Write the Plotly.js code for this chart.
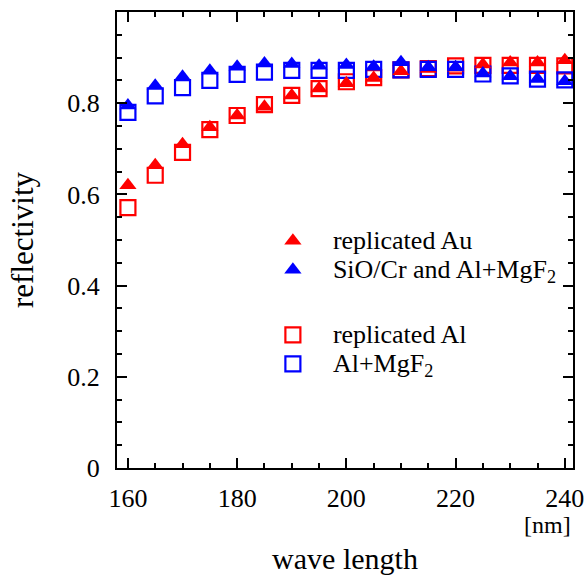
<!DOCTYPE html>
<html>
<head>
<meta charset="utf-8">
<script src="https://cdn.plot.ly/plotly-3.0.1.min.js"></script>
<style>html,body{margin:0;padding:0;background:#fff}#chart{width:585px;height:579px}</style>
</head>
<body>
<div id="chart"></div>
<script>
const wavelength = [160,165,170,175,180,185,190,195,200,205,210,215,220,225,230,235,240];
const replicatedAu = [0.620,0.664,0.710,0.747,0.773,0.792,0.817,0.832,0.844,0.855,0.870,0.875,0.878,0.885,0.889,0.889,0.894];
const sioCrAlMgF2 = [0.795,0.838,0.858,0.871,0.880,0.887,0.886,0.882,0.884,0.880,0.890,0.879,0.879,0.865,0.859,0.853,0.848];
const replicatedAl = [0.571,0.642,0.692,0.742,0.773,0.797,0.817,0.832,0.847,0.856,0.873,0.876,0.882,0.883,0.883,0.883,0.882];
const alMgF2 = [0.780,0.816,0.834,0.850,0.863,0.868,0.872,0.872,0.872,0.874,0.873,0.874,0.874,0.864,0.860,0.853,0.851];
const seriesNames = ['replicated Au', 'SiO/Cr and Al+MgF<sub>2</sub>', 'replicated Al', 'Al+MgF<sub>2</sub>'];

const RED = '#ff0000', BLUE = '#0000ff';
const FONT = 'Liberation Serif, Times New Roman, serif';
const big = s => '<span style="font-size:26px">' + s + '</span>';

const sq = (y, c, name, rank) => ({
  x: wavelength, y: y, type: 'scatter', mode: 'markers', name: big(name),
  legendgroup: 'squares', legendrank: rank,
  marker: {symbol: 'square-open', size: 15, color: c, line: {width: 2.2, color: c}}
});
const tri = (y, c, name, rank) => ({
  x: wavelength, y: y, type: 'scatter', mode: 'markers', name: big(name),
  legendgroup: 'triangles', legendrank: rank,
  marker: {symbol: 'triangle-up', size: 15, color: c, line: {width: 0}}
});

const data = [
  sq(replicatedAl, RED, seriesNames[2], 3),
  sq(alMgF2, BLUE, seriesNames[3], 4),
  tri(replicatedAu, RED, seriesNames[0], 1),
  tri(sioCrAlMgF2, BLUE, seriesNames[1], 2)
];

const axisCommon = {
  showgrid: false, zeroline: false, showline: true, linecolor: '#000', linewidth: 2,
  mirror: 'allticks', ticks: 'inside', ticklen: 10, tickwidth: 2, tickcolor: '#000',
  tickfont: {family: FONT, size: 26, color: '#000'}
};

const layout = {
  width: 585, height: 579,
  margin: {l: 117, r: 12, t: 12, b: 111},
  paper_bgcolor: '#fff', plot_bgcolor: '#fff',
  font: {family: FONT, color: '#000'},
  xaxis: Object.assign({}, axisCommon, {
    range: [158, 241.5], tickvals: [160,180,200,220,240], ticklabelstandoff: 6,
    minor: {dtick: 5, tick0: 160, ticks: 'inside', ticklen: 5, tickwidth: 2, tickcolor: '#000'},
    title: {text: 'wave length', font: {family: FONT, size: 30, color: '#000'}, standoff: 36}
  }),
  yaxis: Object.assign({}, axisCommon, {
    range: [0, 1], dtick: 0.2, tick0: 0, ticklabelstandoff: 10,
    minor: {dtick: 0.05, tick0: 0, ticks: 'inside', ticklen: 5, tickwidth: 2, tickcolor: '#000'},
    title: {text: 'reflectivity', font: {family: FONT, size: 31, color: '#000'}, standoff: 24}
  }),
  showlegend: true,
  legend: {
    x: 0.298, y: 0.541, xanchor: 'left', yanchor: 'top',
    traceorder: 'grouped', tracegroupgap: 36, bgcolor: 'rgba(0,0,0,0)',
    font: {family: FONT, size: 20, color: '#000'}, itemwidth: 70
  },
  annotations: [{
    text: '[nm]', xref: 'paper', yref: 'paper', x: 1, y: 0, xanchor: 'right', yanchor: 'top',
    yshift: -42, showarrow: false, font: {family: FONT, size: 24, color: '#000'}
  }]
};

Plotly.newPlot('chart', data, layout, {displayModeBar: false, staticPlot: true});
</script>
</body>
</html>
